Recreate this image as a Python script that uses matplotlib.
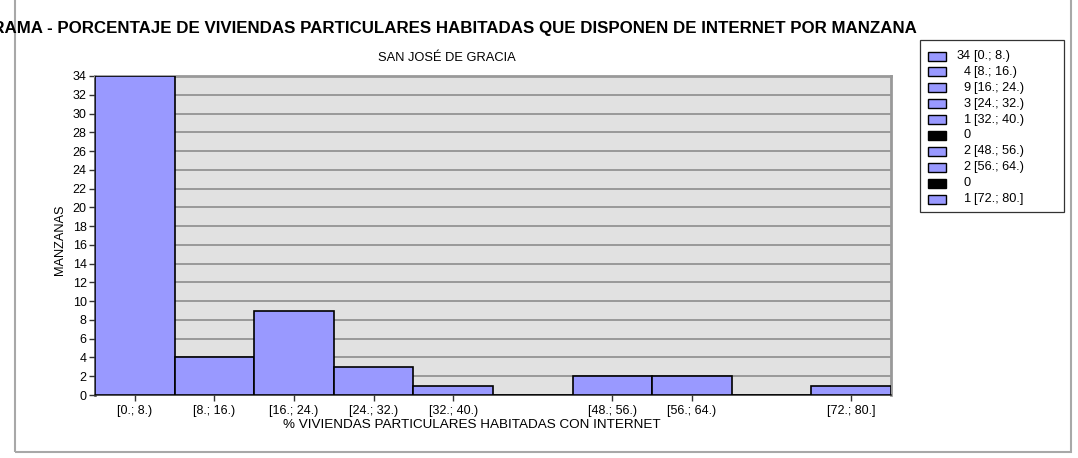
import numpy as np
import matplotlib.pyplot as plt
from matplotlib.patches import Rectangle

plt.rcParams['font.family'] = ['Liberation Sans', 'DejaVu Sans']

# histogram data
bin_labels = ['[0.; 8.)', '[8.; 16.)', '[16.; 24.)', '[24.; 32.)', '[32.; 40.)',
              '[40.; 48.)', '[48.; 56.)', '[56.; 64.)', '[64.; 72.)', '[72.; 80.]']
counts = [34, 4, 9, 3, 1, 0, 2, 2, 0, 1]
bin_edges = [0, 8, 16, 24, 32, 40, 48, 56, 64, 72, 80]
yticks = list(range(0, 35, 2))

title = 'HISTOGRAMA - PORCENTAJE DE VIVIENDAS PARTICULARES HABITADAS QUE DISPONEN DE INTERNET POR MANZANA'
subtitle = 'SAN JOSÉ DE GRACIA'
xlabel = '% VIVIENDAS PARTICULARES HABITADAS CON INTERNET'
ylabel = 'MANZANAS'

bar_color = '#9999ff'

W, H = 1078, 458
fig = plt.figure(figsize=(W / 100, H / 100), dpi=100)
fig.patch.set_facecolor('white')

def fx(px):
    return px / W

def fy(py):
    return 1 - py / H

# outer frame
fig.patches.append(Rectangle((fx(15), fy(452)), (1071 - 15) / W, 460 / H,
                             transform=fig.transFigure, fill=False,
                             edgecolor='#a8a8a8', linewidth=1.5))

ax = fig.add_axes([fx(95), fy(395), (891 - 95) / W, (395 - 76) / H])
ax.set_facecolor('#e1e1e1')

left = np.array(bin_edges[:-1])
width = np.diff(bin_edges)
centers = left + width / 2
ax.bar(left, counts, width=width, align='edge', color=bar_color,
       edgecolor='black', linewidth=1.2, zorder=3)

ax.set_xlim(bin_edges[0], bin_edges[-1])
ax.set_ylim(0, 34)
ax.set_yticks(yticks)
ax.yaxis.grid(True, color='#8c8c8c', linewidth=1.2, zorder=0)
ax.set_axisbelow(True)

# ticks only for non-empty bins
nz = [i for i, c in enumerate(counts) if c > 0]
ax.set_xticks(centers[nz])
ax.set_xticklabels([bin_labels[i] for i in nz])
ax.tick_params(axis='both', labelsize=9, length=4, width=1, color='#333333', direction='out', pad=2)
ax.tick_params(axis='x', pad=3)

for s in ['top', 'right']:
    ax.spines[s].set_color('#999999')
    ax.spines[s].set_linewidth(2)
ax.spines['left'].set_color('#333333')
ax.spines['left'].set_linewidth(1.8)
ax.spines['bottom'].set_color('#333333')
ax.spines['bottom'].set_linewidth(1.2)

fig.text(fx(472), fy(425), xlabel, ha='center', va='center', fontsize=9.7)
fig.text(fx(60), fy(240), ylabel, ha='center', va='center', rotation=90, fontsize=9.2)

# the original title runs off the left edge of the image
fig.text(fx(917), fy(28), title, ha='right', va='center',
         fontsize=12.15, fontweight='bold')
fig.text(fx(447), fy(58), subtitle, ha='center', va='center', fontsize=9.3)

# legend box, drawn by hand to match the original layout
fig.patches.append(Rectangle((fx(920), fy(212)), (1064 - 920) / W, (212 - 40) / H,
                             transform=fig.transFigure, facecolor='white',
                             edgecolor='#333333', linewidth=0.9))
row0, step = 56, 15.9
for i, c in enumerate(counts):
    yc = row0 + i * step
    fig.patches.append(Rectangle((fx(928), fy(yc + 4.5)), 18 / W, 9 / H,
                                 transform=fig.transFigure,
                                 facecolor=bar_color if c > 0 else 'black',
                                 edgecolor='black', linewidth=1))
    fig.text(fx(971), fy(yc), str(c), ha='right', va='center', fontsize=9.2)
    if c > 0:
        fig.text(fx(974), fy(yc), bin_labels[i], ha='left', va='center', fontsize=9.2)

fig.savefig('out.png', dpi=100)
